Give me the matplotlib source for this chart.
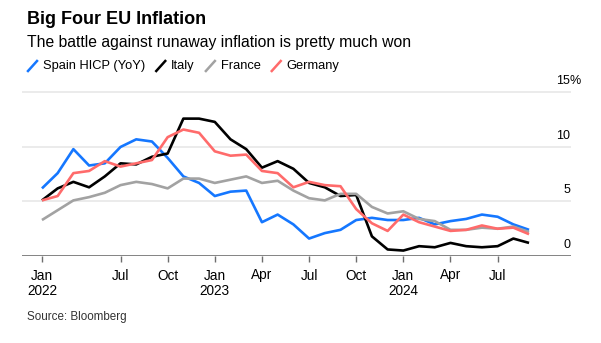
import numpy as np
import matplotlib
matplotlib.use("Agg")
import matplotlib.pyplot as plt
from matplotlib.lines import Line2D
from matplotlib import transforms

plt.rcParams['font.family'] = ['Liberation Sans', 'DejaVu Sans']

# monthly HICP YoY, Jan 2022 - Aug 2024
spain = [6.2, 7.6, 9.8, 8.3, 8.5, 10.0, 10.7, 10.5, 9.0, 7.3, 6.7, 5.5,
         5.9, 6.0, 3.1, 3.8, 2.9, 1.6, 2.1, 2.4, 3.3, 3.5, 3.3, 3.3,
         3.5, 2.9, 3.2, 3.4, 3.8, 3.6, 2.9, 2.4]
italy = [5.1, 6.2, 6.8, 6.3, 7.3, 8.5, 8.4, 9.1, 9.4, 12.6, 12.6, 12.3,
         10.7, 9.8, 8.1, 8.7, 8.0, 6.7, 6.3, 5.5, 5.6, 1.8, 0.6, 0.5,
         0.9, 0.8, 1.2, 0.9, 0.8, 0.9, 1.6, 1.2]
france = [3.3, 4.2, 5.1, 5.4, 5.8, 6.5, 6.8, 6.6, 6.2, 7.1, 7.1, 6.7,
          7.0, 7.3, 6.7, 6.9, 6.0, 5.3, 5.1, 5.7, 5.7, 4.5, 3.9, 4.1,
          3.4, 3.2, 2.4, 2.4, 2.6, 2.5, 2.7, 2.2]
germany = [5.1, 5.5, 7.6, 7.8, 8.7, 8.2, 8.5, 8.8, 10.9, 11.6, 11.3, 9.6,
           9.2, 9.3, 7.8, 7.6, 6.3, 6.8, 6.5, 6.4, 4.3, 3.0, 2.3, 3.8,
           3.1, 2.7, 2.3, 2.4, 2.8, 2.5, 2.6, 2.0]

series_names = ['Spain HICP (YoY)', 'Italy', 'France', 'Germany']
series_colors = ['#1577ff', '#000000', '#a2a2a2', '#ff6b6b']
series_data = [spain, italy, france, germany]

tick_pos = [0, 5, 8, 11, 14, 17, 20, 23, 26, 29]
tick_labels = ['Jan\n2022', 'Jul', 'Oct', 'Jan\n2023', 'Apr', 'Jul', 'Oct',
               'Jan\n2024', 'Apr', 'Jul']
y_ticks = [0, 5, 10, 15]

W, H = 601, 343
fig = plt.figure(figsize=(W / 100, H / 100), dpi=100)
ax = fig.add_axes([22 / W, 87 / H, 549 / W, 169 / H])

x = np.arange(len(spain))
# draw order: gray, red, black, blue
for i in [2, 3, 1, 0]:
    ax.plot(x, series_data[i], color=series_colors[i], lw=1.9,
            solid_joinstyle='round', solid_capstyle='butt', zorder=3 + i * 0.1)

ax.set_xlim(-1.27, 33.67)
ax.set_ylim(0, 15.5)

for v in y_ticks[1:]:
    ax.axhline(v, color='#e8e8e8', lw=1.2, zorder=1)
ax.axhline(0, color='#6e6e6e', lw=1.2, zorder=4)

for s in ax.spines.values():
    s.set_visible(False)
ax.set_yticks([])
ax.set_xticks(tick_pos)
ax.set_xticklabels(tick_labels, fontsize=9.8, linespacing=1.15, va='top')
ax.tick_params(axis='x', length=4, width=1, color='#6e6e6e', pad=5)

# y labels sitting above the gridlines on the right
trans = transforms.offset_copy(ax.get_yaxis_transform(), fig=fig, x=-1, y=5, units='dots')
for v in y_ticks:
    ax.text(1.0, v, str(v), transform=trans, ha='right', va='bottom', fontsize=9)
ax.text(1.0, y_ticks[-1], '%', transform=trans, ha='left', va='bottom', fontsize=9)

fig.text(27 / W, 1 - 19 / H, 'Big Four EU Inflation', fontsize=13,
         fontweight='bold', va='center', ha='left')
fig.text(27 / W, 1 - 43 / H, 'The battle against runaway inflation is pretty much won',
         fontsize=11.3, va='center', ha='left')

# legend: slash + label
renderer = fig.canvas.get_renderer()
lx = 28
ly = 66
for name, col in zip(series_names, series_colors):
    fig.add_artist(Line2D([lx / W, (lx + 9) / W], [1 - (ly + 5) / H, 1 - (ly - 5) / H],
                          color=col, lw=1.8, transform=fig.transFigure))
    t = fig.text((lx + 15) / W, 1 - ly / H, name, fontsize=9.3, va='center', ha='left')
    bb = t.get_window_extent(renderer)
    lx = bb.x1 + 11

fig.text(27 / W, 1 - 317 / H, 'Source: Bloomberg', fontsize=8.4, va='center',
         ha='left', color='#333333')

fig.savefig('out.png', dpi=100)
